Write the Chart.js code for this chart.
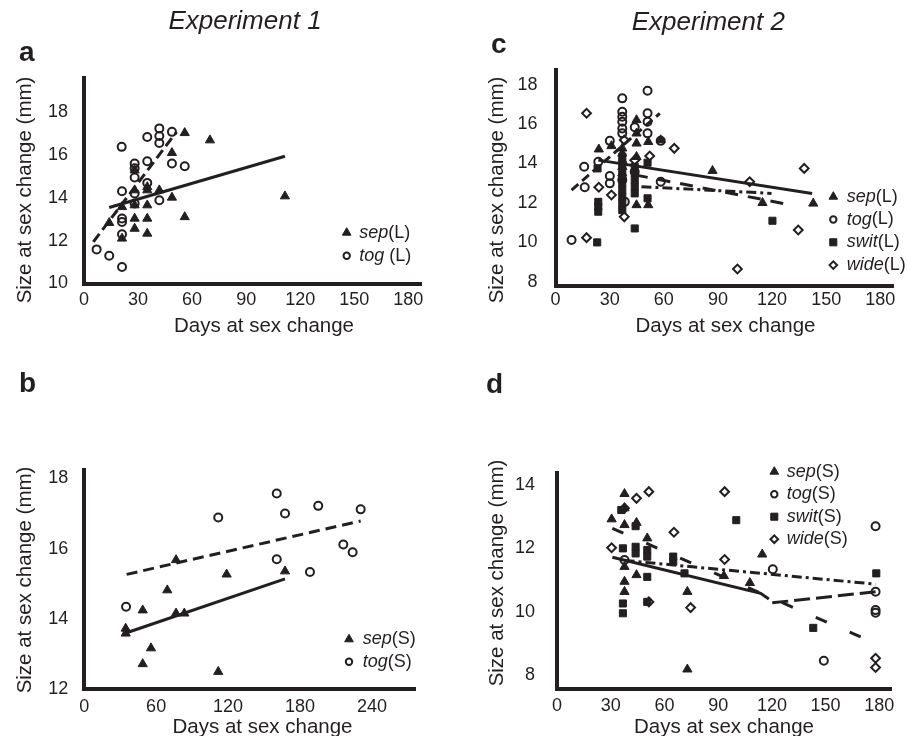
<!DOCTYPE html>
<html>
<head>
<meta charset="utf-8">
<title>Size at sex change</title>
<script src="https://cdn.jsdelivr.net/npm/chart.js@4.4.1/dist/chart.umd.min.js"></script>
<style>
  html, body { margin: 0; padding: 0; background: #ffffff; }
  #figure { position: relative; width: 907px; height: 736px; overflow: hidden; background: #ffffff; }
  #figure canvas { position: absolute; left: 0; top: 0; }
</style>
</head>
<body>
<div id="figure">
  <canvas id="panelA" width="907" height="736"></canvas>
  <canvas id="panelB" width="907" height="736"></canvas>
  <canvas id="panelC" width="907" height="736"></canvas>
  <canvas id="panelD" width="907" height="736"></canvas>
</div>
<script>
// ---------- Experiment 1, large fish (panel a) ----------
const aSepDays = [14.0, 21.1, 21.1, 28.1, 28.1, 28.1, 28.1, 28.1, 35.1, 35.1, 35.1, 35.1, 35.1, 41.8, 48.8, 48.8, 55.9, 55.9, 69.9, 111.5];
const aSepSize = [12.83, 12.10, 13.57, 12.56, 13.03, 13.65, 14.35, 15.28, 12.33, 13.03, 13.65, 14.35, 14.50, 14.35, 14.01, 16.09, 13.10, 17.02, 16.68, 14.07];
const aTogDays = [7.0, 14.0, 21.1, 21.1, 21.1, 21.1, 21.1, 20.9, 28.1, 28.1, 28.1, 28.1, 28.1, 35.1, 35.1, 35.1, 41.8, 41.8, 41.8, 41.8, 48.8, 48.8, 55.9];
const aTogSize = [11.59, 11.29, 10.77, 12.30, 12.87, 13.03, 14.30, 16.37, 15.59, 15.37, 14.94, 14.20, 13.73, 16.83, 15.70, 14.69, 17.23, 16.88, 16.55, 13.88, 17.07, 15.59, 15.47];
const aSepFitDays = [14.0, 111.5];
const aSepFitSize = [13.54, 15.93];
const aTogFitDays = [5.2, 51.4];
const aTogFitSize = [11.94, 17.07];

// ---------- Experiment 1, small fish (panel b) ----------
const bSepDays = [34.6, 34.6, 48.8, 48.8, 55.7, 69.3, 76.6, 76.6, 83.5, 111.8, 118.8, 167.5];
const bSepSize = [13.73, 13.59, 14.25, 12.72, 13.17, 14.82, 15.68, 14.16, 14.16, 12.50, 15.27, 15.36];
const bTogDays = [34.9, 111.8, 160.6, 167.5, 195.2, 230.6, 160.6, 188.3, 216.1, 223.9];
const bTogSize = [14.35, 16.89, 17.57, 17.00, 17.22, 17.12, 15.70, 15.34, 16.12, 15.90];
const bSepFitDays = [35.4, 167.5];
const bSepFitSize = [13.61, 15.14];
const bTogFitDays = [35.4, 230.6];
const bTogFitSize = [15.27, 16.79];

// ---------- Experiment 2, large fish (panel c) ----------
const cSepDays = [24.0, 31.0, 37.0, 37.0, 37.0, 37.0, 37.0, 44.9, 44.9, 44.9, 44.9, 44.9, 51.4, 51.4, 58.3, 87.0, 114.7, 142.8];
const cSepSize = [14.72, 14.89, 14.77, 14.51, 14.17, 13.83, 13.50, 16.21, 15.53, 15.02, 14.34, 11.89, 15.10, 11.89, 15.19, 13.63, 12.00, 11.97];
const cTogDays = [8.9, 16.2, 15.9, 23.7, 30.1, 30.1, 30.1, 37.0, 37.0, 37.0, 37.0, 37.0, 37.0, 37.0, 38.4, 43.9, 43.9, 51.0, 51.0, 51.0, 51.0, 58.3, 58.3];
const cTogSize = [10.11, 12.79, 13.83, 14.09, 15.15, 13.36, 12.99, 17.31, 16.63, 16.37, 16.12, 15.78, 15.53, 13.16, 12.05, 15.84, 13.58, 17.70, 16.55, 16.12, 15.53, 13.07, 15.15];
const cSwitDays = [23.1, 23.7, 23.7, 23.7, 23.3, 37.0, 37.0, 37.0, 37.0, 37.0, 37.0, 37.0, 37.0, 37.0, 43.9, 43.9, 43.9, 43.9, 43.9, 43.9, 51.0, 51.0, 120.2];
const cSwitSize = [9.99, 12.05, 11.80, 11.55, 13.75, 14.34, 14.01, 13.67, 13.33, 12.99, 12.65, 12.31, 11.97, 11.63, 10.70, 13.83, 13.50, 13.16, 12.82, 12.48, 12.23, 14.04, 11.09];
const cWideDays = [17.2, 17.2, 24.0, 31.0, 38.1, 38.1, 43.9, 52.2, 65.8, 107.6, 137.8, 134.5, 100.8];
const cWideSize = [16.55, 10.23, 12.79, 12.40, 11.29, 15.19, 14.17, 14.38, 14.77, 13.07, 13.75, 10.62, 8.64];
const cSepFitDays = [23.7, 142.2];
const cSepFitSize = [14.17, 12.48];
const cTogFitDays = [8.9, 57.8];
const cTogFitSize = [12.65, 16.55];
const cSwitFitDays = [44.0, 130.7];
const cSwitFitSize = [13.42, 11.89];
const cWideFitDays = [47.6, 119.7];
const cWideFitSize = [12.82, 12.48];

// ---------- Experiment 2, small fish (panel d) ----------
const dSepDays = [30.5, 37.7, 37.7, 37.7, 37.7, 37.7, 37.7, 44.4, 44.4, 50.4, 72.8, 72.8, 93.2, 107.7, 114.6];
const dSepSize = [12.92, 13.72, 13.27, 12.74, 11.42, 10.95, 10.63, 11.16, 12.81, 12.32, 10.63, 8.18, 11.13, 10.91, 11.81];
const dTogDays = [177.9, 177.9, 177.9, 177.9, 149.0, 120.5, 37.7];
const dTogSize = [12.70, 10.63, 10.05, 9.97, 8.45, 11.34, 11.63];
const dSwitDays = [35.9, 36.8, 36.8, 36.8, 43.9, 43.9, 43.9, 50.4, 50.4, 50.4, 50.4, 64.9, 64.9, 71.2, 100.1, 143.1, 178.3];
const dSwitSize = [13.21, 12.00, 10.26, 9.95, 12.70, 12.05, 11.84, 11.95, 11.74, 11.10, 10.31, 11.74, 11.58, 11.21, 12.89, 9.49, 11.21];
const dWideDays = [30.5, 37.7, 44.4, 51.3, 65.3, 74.6, 51.3, 93.6, 93.6, 177.9, 177.9];
const dWideSize = [12.02, 13.27, 13.58, 13.79, 12.51, 10.13, 10.31, 13.79, 11.65, 8.53, 8.24];
const dSepFitDays = [30.9, 113.7, 118.3];
const dSepFitSize = [11.72, 10.58, 10.40];
const dSwitFitDays = [30.9, 177.9];
const dSwitFitSize = [12.63, 9.00];
const dTogFitDays = [120.2, 177.9];
const dTogFitSize = [10.28, 10.63];
const dWideFitDays = [37.7, 177.9];
const dWideFitSize = [11.62, 10.87];

// ---------- shared text ----------
const xAxisTitle = 'Days at sex change';
const yAxisTitle = 'Size at sex change (mm)';

const INK = '#231f20';
const FONT = "'Liberation Sans', Arial, Helvetica, sans-serif";

function pts(days, sizes) {
  return days.map((d, i) => ({ x: d, y: sizes[i] }));
}

// marker looks for the four treatments
const markers = {
  sep:  { pointStyle: 'triangle', pointRadius: 5.3, backgroundColor: INK, borderColor: INK, borderWidth: 1, legendRadius: 5 },
  tog:  { pointStyle: 'circle',   pointRadius: 4.0, backgroundColor: 'rgba(0,0,0,0)', borderColor: INK, borderWidth: 2, legendRadius: 3.2 },
  swit: { pointStyle: 'rect',     pointRadius: 5.0, backgroundColor: INK, borderColor: INK, borderWidth: 1, legendRadius: 5 },
  wide: { pointStyle: 'rectRot',  pointRadius: 4.4, backgroundColor: 'rgba(0,0,0,0)', borderColor: INK, borderWidth: 2, legendRadius: 3.8 }
};

function scatterSet(label, kind, days, sizes) {
  const m = markers[kind];
  return {
    type: 'scatter', label, data: pts(days, sizes), showLine: false,
    pointStyle: m.pointStyle, pointRadius: m.pointRadius, pointHoverRadius: m.pointRadius,
    backgroundColor: m.backgroundColor, borderColor: m.borderColor, borderWidth: m.borderWidth,
    legendKind: kind, order: 2
  };
}

function fitSet(label, days, sizes, dash) {
  return {
    type: 'scatter', label, data: pts(days, sizes), showLine: true,
    pointRadius: 0, pointHoverRadius: 0, borderColor: INK, backgroundColor: INK,
    borderWidth: 3, borderDash: dash, borderCapStyle: 'butt', tension: 0, order: 1
  };
}

// draws panel letter, heading, axis titles and the marker key
const decorPlugin = {
  id: 'decor',
  afterDraw(chart, args, o) {
    const ctx = chart.ctx;
    ctx.save();
    ctx.fillStyle = INK;
    ctx.textBaseline = 'alphabetic';
    if (o.letter) {
      ctx.font = `bold 28px ${FONT}`;
      ctx.textAlign = 'left';
      ctx.fillText(o.letter.text, o.letter.x, o.letter.y);
    }
    if (o.heading) {
      ctx.font = `italic 26px ${FONT}`;
      ctx.textAlign = 'center';
      ctx.fillText(o.heading.text, o.heading.x, o.heading.y);
    }
    ctx.font = `20.5px ${FONT}`;
    ctx.textAlign = 'center';
    ctx.fillText(xAxisTitle, o.xTitle.x, o.xTitle.y);
    ctx.save();
    ctx.translate(o.yTitle.x, o.yTitle.y);
    ctx.rotate(-Math.PI / 2);
    ctx.fillText(yAxisTitle, 0, 0);
    ctx.restore();

    const key = o.key;
    const sets = chart.data.datasets.filter(ds => ds.legendKind);
    sets.forEach((ds, i) => {
      const y = key.y + i * key.dy;
      const m = markers[ds.legendKind];
      ctx.fillStyle = m.backgroundColor;
      ctx.strokeStyle = m.borderColor;
      ctx.lineWidth = m.borderWidth;
      Chart.helpers.drawPoint(ctx, { pointStyle: m.pointStyle, radius: m.legendRadius, borderWidth: m.borderWidth }, key.mx, y);
      const open = ds.label.indexOf('(');
      const name = ds.label.slice(0, open).trim();
      const tag = ds.label.slice(open - (ds.label[open - 1] === ' ' ? 1 : 0));
      ctx.fillStyle = INK;
      ctx.textAlign = 'left';
      ctx.textBaseline = 'middle';
      ctx.font = `italic 18px ${FONT}`;
      ctx.fillText(name, key.tx, y);
      const w = ctx.measureText(name).width;
      ctx.font = `18px ${FONT}`;
      ctx.fillText(tag, key.tx + w, y);
    });
    ctx.restore();
  }
};

function panel(id, cfg) {
  const tickFont = { family: FONT, size: 18 };
  new Chart(document.getElementById(id), {
    type: 'scatter',
    data: { datasets: cfg.datasets },
    plugins: [decorPlugin],
    options: {
      responsive: false,
      animation: false,
      events: [],
      layout: { padding: { left: 0, top: cfg.area.top, right: 907 - cfg.area.right, bottom: 736 - cfg.area.bottom - 40 } },
      plugins: { legend: { display: false }, tooltip: { enabled: false }, decor: cfg.decor },
      scales: {
        x: {
          type: 'linear', position: 'bottom', min: cfg.x.min, max: cfg.x.max,
          afterFit(s) { s.height = 40; },
          grid: { display: false, drawTicks: false },
          border: { display: true, width: 4, color: INK },
          ticks: { stepSize: cfg.x.step, autoSkip: false, includeBounds: false, maxRotation: 0, padding: cfg.x.pad, color: INK, font: tickFont }
        },
        y: {
          type: 'linear', position: 'left', min: cfg.y.min, max: cfg.y.max,
          afterFit(s) { s.width = cfg.area.left; },
          grid: { display: false, drawTicks: false },
          border: { display: true, width: 4, color: INK },
          ticks: { stepSize: 2, autoSkip: false, includeBounds: false, padding: cfg.y.pad, color: INK, font: tickFont }
        }
      }
    }
  });
}

panel('panelA', {
  area: { left: 84, right: 421.7, top: 78, bottom: 283.5 },
  x: { min: 0, max: 187.4, step: 30, pad: 6 },
  y: { min: 10, max: 19.58, pad: 16 },
  datasets: [
    scatterSet('sep(L)', 'sep', aSepDays, aSepSize),
    scatterSet('tog (L)', 'tog', aTogDays, aTogSize),
    fitSet('sep(L) trend', aSepFitDays, aSepFitSize, []),
    fitSet('tog(L) trend', aTogFitDays, aTogFitSize, [10, 5])
  ],
  decor: {
    letter: { text: 'a', x: 19, y: 61 },
    heading: { text: 'Experiment 1', x: 245, y: 28.5 },
    xTitle: { x: 264, y: 331.7 },
    yTitle: { x: 31, y: 190 },
    key: { mx: 346.7, tx: 359.3, y: 232.7, dy: 23 }
  }
});

panel('panelB', {
  area: { left: 84.2, right: 415.7, top: 470, bottom: 689.3 },
  x: { min: 0, max: 276.5, step: 60, pad: 7 },
  y: { min: 12, max: 18.24, pad: 16 },
  datasets: [
    scatterSet('sep(S)', 'sep', bSepDays, bSepSize),
    scatterSet('tog(S)', 'tog', bTogDays, bTogSize),
    fitSet('sep(S) trend', bSepFitDays, bSepFitSize, []),
    fitSet('tog(S) trend', bTogFitDays, bTogFitSize, [11, 6])
  ],
  decor: {
    letter: { text: 'b', x: 19, y: 392 },
    xTitle: { x: 262.5, y: 732.5 },
    yTitle: { x: 31, y: 580 },
    key: { mx: 349, tx: 362.7, y: 639.3, dy: 22.4 }
  }
});

panel('panelC', {
  area: { left: 555.5, right: 893, top: 70, bottom: 285.5 },
  x: { min: 0, max: 187.0, step: 30, pad: 4 },
  y: { min: 7.8, max: 18.75, pad: 18 },
  datasets: [
    scatterSet('sep(L)', 'sep', cSepDays, cSepSize),
    scatterSet('tog(L)', 'tog', cTogDays, cTogSize),
    scatterSet('swit(L)', 'swit', cSwitDays, cSwitSize),
    scatterSet('wide(L)', 'wide', cWideDays, cWideSize),
    fitSet('sep(L) trend', cSepFitDays, cSepFitSize, []),
    fitSet('tog(L) trend', cTogFitDays, cTogFitSize, [9, 5]),
    fitSet('swit(L) trend', cSwitFitDays, cSwitFitSize, [13, 10]),
    fitSet('wide(L) trend', cWideFitDays, cWideFitSize, [10, 4, 3, 4])
  ],
  decor: {
    letter: { text: 'c', x: 491, y: 53 },
    heading: { text: 'Experiment 2', x: 708.3, y: 30 },
    xTitle: { x: 725.5, y: 331.7 },
    yTitle: { x: 503, y: 190 },
    key: { mx: 833.3, tx: 846.7, y: 196.7, dy: 22.8 }
  }
});

panel('panelD', {
  area: { left: 557, right: 891.7, top: 473.3, bottom: 689.3 },
  x: { min: 0, max: 186.9, step: 30, pad: 6 },
  y: { min: 7.55, max: 14.37, pad: 22 },
  datasets: [
    scatterSet('sep(S)', 'sep', dSepDays, dSepSize),
    scatterSet('tog(S)', 'tog', dTogDays, dTogSize),
    scatterSet('swit(S)', 'swit', dSwitDays, dSwitSize),
    scatterSet('wide(S)', 'wide', dWideDays, dWideSize),
    fitSet('sep(S) trend', dSepFitDays, dSepFitSize, []),
    fitSet('swit(S) trend', dSwitFitDays, dSwitFitSize, [12, 25]),
    fitSet('tog(S) trend', dTogFitDays, dTogFitSize, [16, 6]),
    fitSet('wide(S) trend', dWideFitDays, dWideFitSize, [10, 4, 3, 4])
  ],
  decor: {
    letter: { text: 'd', x: 486, y: 393 },
    xTitle: { x: 724, y: 732.5 },
    yTitle: { x: 503, y: 573 },
    key: { mx: 774.3, tx: 786.7, y: 471.7, dy: 22.5 }
  }
});
</script>
</body>
</html>
